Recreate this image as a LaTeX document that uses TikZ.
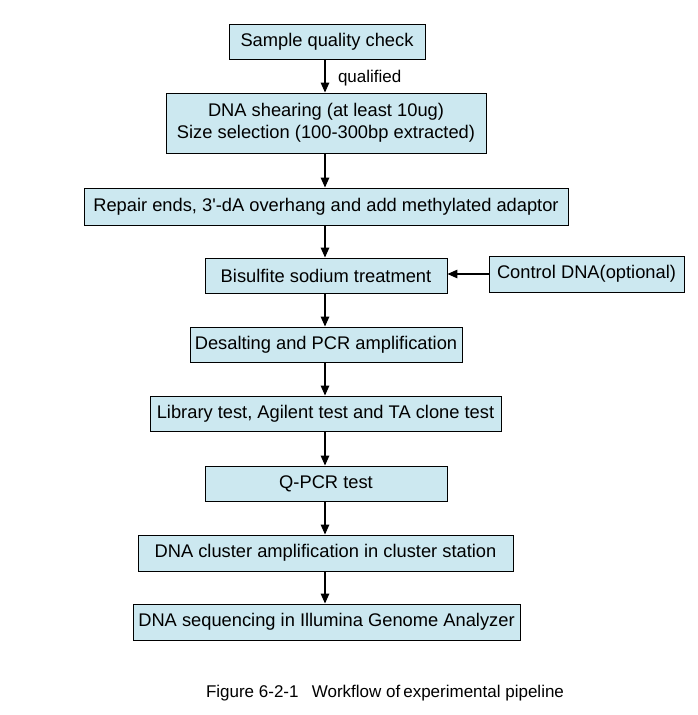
\documentclass[tikz,border=0pt]{standalone}
\usepackage{fontspec}
\setmainfont{Liberation Sans}[Ligatures=TeXOff]
\usetikzlibrary{arrows.meta}
\definecolor{boxfill}{RGB}{204,232,240}
\begin{document}
\begin{tikzpicture}[x=1pt,y=-1pt,
  stepbox/.style={draw=black,line width=0.9pt,fill=boxfill,inner sep=0pt,align=center,
    font=\fontsize{18.3}{22.5}\selectfont},
  flow/.style={line width=1.4pt,-{Triangle[width=8.5pt,length=10pt]}}]
\useasboundingbox (0,0) rectangle (697,715);
\node[stepbox,minimum width=196pt,minimum height=35pt] (b1) at (327,41.5) {Sample quality check};
\node[stepbox,minimum width=320pt,minimum height=60pt] (b2) at (326,123) {DNA shearing (at least 10ug)\\Size selection (100-300bp extracted)};
\node[stepbox,minimum width=484pt,minimum height=37pt] (b3) at (326,206.5) {Repair ends, 3'-dA overhang and add methylated adaptor};
\node[stepbox,minimum width=242pt,minimum height=35pt] (b4) at (326,275.5) {Bisulfite sodium treatment};
\node[stepbox,minimum width=195pt,minimum height=36pt] (b5) at (586.5,274) {Control DNA(optional)};
\node[stepbox,minimum width=272pt,minimum height=35pt] (b6) at (326,344.5) {Desalting and PCR amplification};
\node[stepbox,minimum width=351pt,minimum height=35pt] (b7) at (325.5,413.5) {Library test, Agilent test and TA clone test};
\node[stepbox,minimum width=242pt,minimum height=35pt] (b8) at (326,483.5) {Q-PCR test};
\node[stepbox,minimum width=375pt,minimum height=36pt] (b9) at (325.5,553) {DNA cluster amplification in cluster station};
\node[stepbox,minimum width=387pt,minimum height=36pt] (b10) at (326.5,622) {DNA sequencing in Illumina Genome Analyzer};
\draw[flow] (b1.south -| 325,0) -- node[right=9pt,yshift=-2pt,font=\fontsize{17}{20}\selectfont]{qualified} (b2.north -| 325,0);
\draw[flow] (b2.south -| 325,0) -- (b3.north -| 325,0);
\draw[flow] (b3.south -| 325,0) -- (b4.north -| 325,0);
\draw[flow] (b4.south -| 325,0) -- (b6.north -| 325,0);
\draw[flow] (b6.south -| 325,0) -- (b7.north -| 325,0);
\draw[flow] (b7.south -| 325,0) -- (b8.north -| 325,0);
\draw[flow] (b8.south -| 325,0) -- (b9.north -| 325,0);
\draw[flow] (b9.south -| 325,0) -- (b10.north -| 325,0);
\draw[flow] (b5.west) -- (b4.east |- b5.west);
\node[font=\fontsize{17}{20}\selectfont,anchor=center] (cap) at (385,693) {Figure 6-2-1\hspace{0.5em} Workflow of\hspace{-0.1em} experimental pipeline};
\end{tikzpicture}
\end{document}
